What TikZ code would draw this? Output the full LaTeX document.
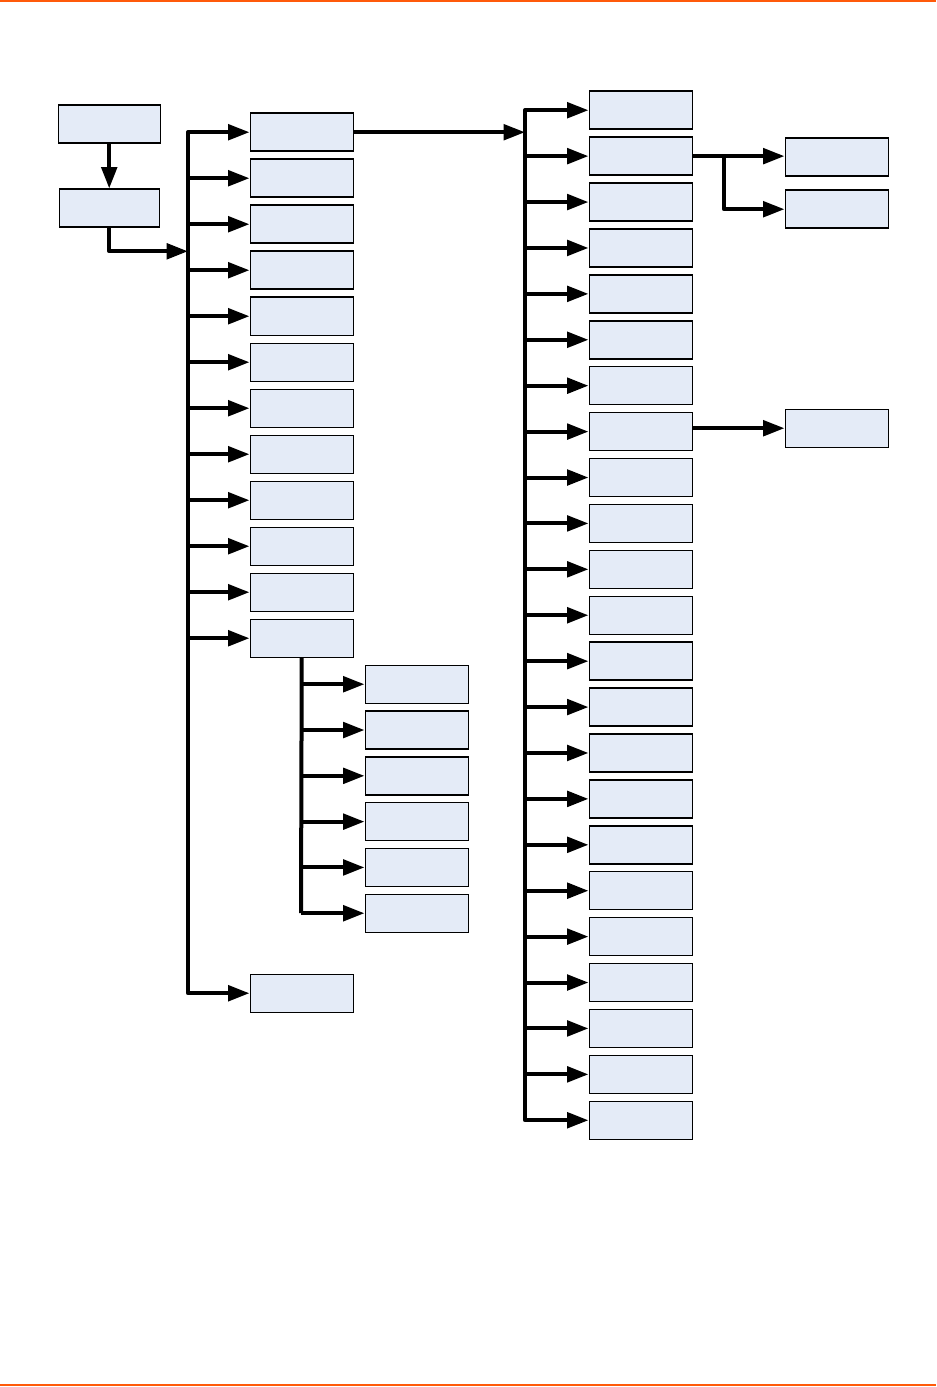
\documentclass[tikz,border=0pt]{standalone}
\usetikzlibrary{arrows.meta}
\definecolor{boxfill}{RGB}{228,235,247}
\definecolor{rule}{RGB}{255,90,10}
\tikzset{
  box/.style={draw=black, line width=1.1pt, fill=boxfill, minimum width=77.25pt, minimum height=28.5pt, inner sep=0pt, anchor=north west},
  arr/.style={line width=3pt, line join=round, -{Triangle[length=16pt,width=11.5pt]}},
  bus/.style={line width=3pt, line cap=butt}
}
\begin{document}
\begin{tikzpicture}[x=0.75pt,y=-0.75pt]
\useasboundingbox (0,0) rectangle (936,1387);
\fill[rule] (0,0) rectangle (936,2.4);
\fill[rule] (0,1383.6) rectangle (936,1386);
% top-left boxes
\node[box, minimum width=76.5pt] (A) at (57.5,104.5) {};
\node[box, minimum width=75pt] (B) at (58.5,188.5) {};
% left column
\foreach \i in {1,...,12} {
  \node[box] (L\i) at (249.5,{112.5+46*(\i-1)}) {};
}
\node[box] (L13) at (249.5,973.5) {};
% sub column
\foreach \j in {1,...,6} {
  \node[box] (S\j) at (364.5,{664.5+45.8*(\j-1)}) {};
}
% right column
\foreach \k in {1,...,23} {
  \node[box] (R\k) at (588.5,{90.5+45.91*(\k-1)}) {};
}
% far right
\node[box] (RR1) at (784.5,137.5) {};
\node[box] (RR2) at (784.5,189.5) {};
\node[box] (RR3) at (784.5,408.5) {};
% coordinates
\coordinate (lb) at (188,0);
\coordinate (rb) at (525,0);
\coordinate (sb) at (301,0);
\coordinate (jx) at (724,0);
\coordinate (bj) at (188,251.3);
% connectors
\draw[arr] (A.south) -- (B.north);
\draw[arr] (B.south) |- (bj);
\draw[bus] (lb |- L2.west) -- (lb |- L12.west);
\draw[arr] (lb |- L2.west) -- (lb |- L1.west) -- (L1.west);
\draw[arr] (lb |- L12.west) -- (lb |- L13.west) -- (L13.west);
\foreach \i in {2,...,12} {
  \draw[arr] (lb |- L\i.west) -- (L\i.west);
}
\draw[bus] (L12.south) -- (sb |- S6.west);
\foreach \j in {1,...,6} {
  \draw[arr] (sb |- S\j.west) -- (S\j.west);
}
\draw[arr] (L1.east) -- (rb |- L1.east);
\draw[bus] (rb |- R2.west) -- (rb |- R22.west);
\draw[arr] (rb |- R2.west) -- (rb |- R1.west) -- (R1.west);
\draw[arr] (rb |- R22.west) -- (rb |- R23.west) -- (R23.west);
\foreach \k in {2,...,22} {
  \draw[arr] (rb |- R\k.west) -- (R\k.west);
}
\draw[arr] (R2.east) -- (R2.east -| RR1.west);
\draw[arr] (jx |- R2.east) |- (RR2.west);
\draw[arr] (R8.east |- RR3.west) -- (RR3.west);
\end{tikzpicture}
\end{document}
